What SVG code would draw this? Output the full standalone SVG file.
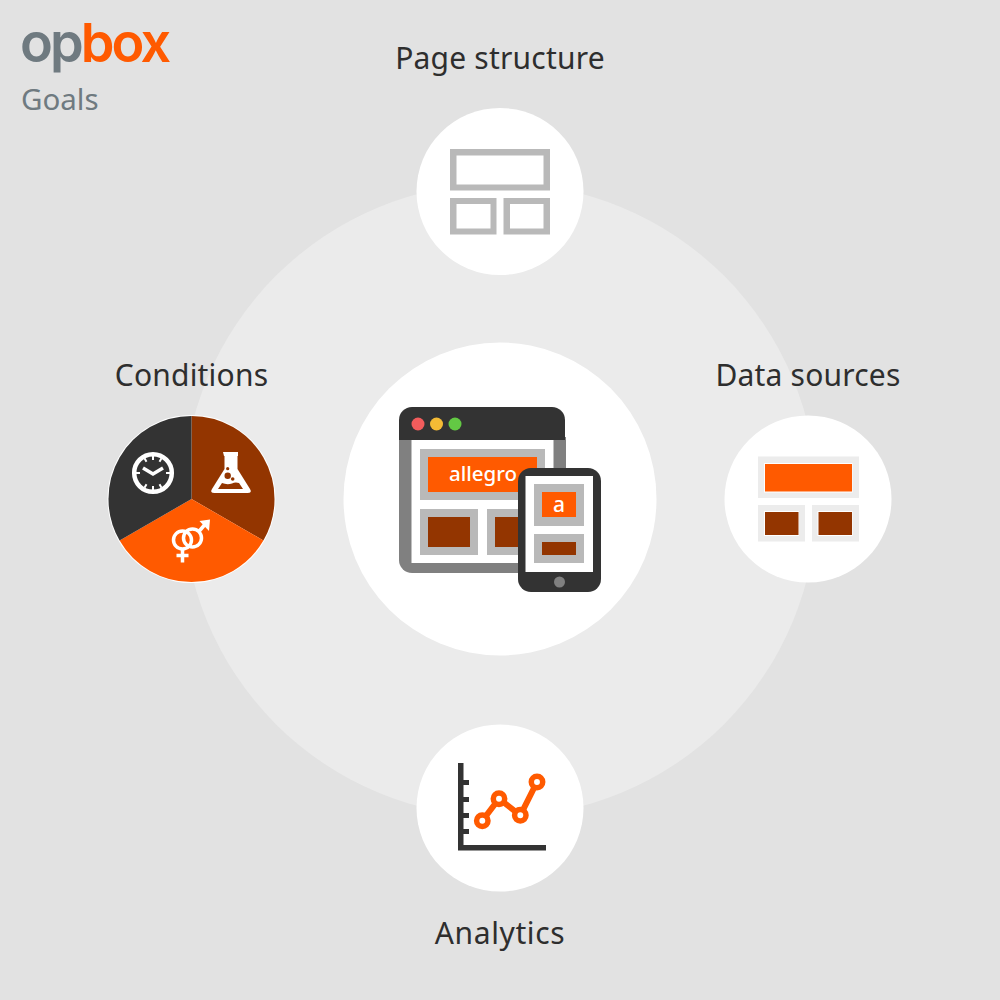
<svg xmlns="http://www.w3.org/2000/svg" width="1000" height="1000" viewBox="0 0 1000 1000">
<style>
.l{font-family:"Noto Sans","Open Sans",sans-serif;font-size:30px;fill:#2e2e2e;text-anchor:middle;letter-spacing:.2px}
.w{fill:#fff}.o{fill:#ff5a00}.b{fill:#933500}.g{fill:#b9b9b9}.d{fill:#333}.e{fill:#ececec}
.s{fill:none;stroke:#fff}
</style>
<rect width="1000" height="1000" fill="#e2e2e2"/>
<circle cx="500" cy="500" r="317" fill="#ebebeb"/>
<g id="logo">
<text x="20" y="62" font-family="Inter,'Noto Sans',sans-serif" font-size="54" font-weight="600" letter-spacing="-2.900" fill="#6f7a80">op<tspan fill="#ff5a00">box</tspan></text>
<text x="21" y="110" font-family="'Noto Sans',sans-serif" font-size="29.500" fill="#6f7a80">Goals</text>
</g>
<g id="page-structure">
<circle cx="500" cy="191.500" r="83.500" class="w"/>
<path class="g" fill-rule="evenodd" d="M450 149h100v41.500h-100zM456.500 155.500v29h87v-29zM450 198h46.500v36.500h-46.500zM456.500 204v24.500h34v-24.500zM503.500 198h46.500v36.500h-46.500zM510 204v24.500h33.500v-24.500z"/>
<text class="l" x="500" y="69">Page structure</text>
</g>
<g id="data-sources">
<circle cx="808" cy="499" r="83.500" class="w"/>
<rect x="758" y="456.500" width="101" height="41.500" class="e"/><rect x="764" y="463" width="88.500" height="29.500" class="w"/><rect x="765" y="464" width="87" height="27.500" class="o"/>
<rect x="758" y="505" width="47" height="36.500" class="e"/><rect x="764" y="511" width="35" height="25" class="w"/><rect x="765" y="512" width="33.500" height="23" class="b"/>
<rect x="812" y="505" width="47" height="36.500" class="e"/><rect x="817.500" y="511" width="35" height="25" class="w"/><rect x="818.500" y="512" width="33.500" height="23" class="b"/>
<text class="l" x="808" y="386">Data sources</text>
</g>
<g id="analytics">
<circle cx="500" cy="808" r="83.500" class="w"/>
<path class="d" d="M458 763h5.500v82h82.500v5.500h-88zM463 780h6v5h-6zM463 797h6v5h-6zM463 813h6v5h-6zM463 829h6v5h-6z"/>
<path d="M482.300 820.700L499 798.700L520.300 815.300L537 782" fill="none" stroke="#ff5a00" stroke-width="6"/>
<g fill="#fff" stroke="#ff5a00" stroke-width="5.500"><circle cx="482.300" cy="820.700" r="5.700"/><circle cx="499" cy="798.700" r="5.700"/><circle cx="520.300" cy="815.300" r="5.700"/><circle cx="537" cy="782" r="5.700"/></g>
<text class="l" x="500" y="944" style="letter-spacing:.6px">Analytics</text>
</g>
<g id="conditions">
<circle cx="191.500" cy="499" r="84" class="w"/>
<path class="b" d="M191.500 499V416A83 83 0 0 1 263.400 540.500Z"/>
<path class="o" d="M191.500 499L263.400 540.500A83 83 0 0 1 119.600 540.500Z"/>
<path class="d" d="M191.500 499L119.600 540.500A83 83 0 0 1 191.500 416Z"/>
<circle cx="153" cy="473" r="18.800" class="s" stroke-width="4.500"/>
<path class="s" stroke-width="3.500" d="M143 468L153 474L163 468"/>
<path class="s" stroke-width="2" d="M153 456v4M153 486v4M136 473h4M166 473h4M144.500 458.300l2 3.500M161.500 458.300l-2 3.500M144.500 487.700l2-3.500M161.500 487.700l-2-3.500"/>
<path class="w" fill-rule="evenodd" d="M223 452h15v4h-.5v13l12.500 20q2.500 4-2.500 4h-33q-5 0-2.500-4l12.500-20v-13h-.5zM222 483l-4 6h25l-4-6q-4-1-7 .5q-5 1.500-10-.5z"/>
<g class="b"><circle cx="227.700" cy="468.700" r="1.600"/><circle cx="227.700" cy="475.800" r="3.200"/><circle cx="232.700" cy="479" r="1.800"/></g>
<circle cx="182.500" cy="540" r="9" class="s" stroke-width="3.500"/><circle cx="192.500" cy="538" r="9" class="s" stroke-width="3.500"/>
<path class="s" stroke-width="3.500" d="M182.500 549v13.500M176.500 555.500h12M198.500 532L207 522"/>
<path class="w" d="M199.500 521l10.500-1.500l-1 11.500z"/>
<text class="l" x="191.500" y="386">Conditions</text>
</g>
<g id="center">
<circle cx="500" cy="499" r="156.500" class="w"/>
<path d="M399 437h167v123a13 13 0 0 1-13 13H412a13 13 0 0 1-13-13z" fill="#808080"/>
<path class="d" d="M399 440v-20a13 13 0 0 1 13-13h140a13 13 0 0 1 13 13v20z"/>
<circle cx="418" cy="424" r="6.500" fill="#f25c5c"/><circle cx="436.500" cy="424" r="6.500" fill="#f4bb35"/><circle cx="455" cy="424" r="6.500" fill="#63c944"/>
<rect x="411.500" y="440" width="142" height="123" class="w"/>
<rect x="420" y="449" width="125" height="51" class="g"/><rect x="428" y="457" width="109" height="35" class="o"/>
<text x="449" y="481" font-family="'Noto Sans',sans-serif" font-size="20.500" font-weight="500" fill="#fff">allegro</text>
<rect x="420" y="509" width="58" height="46" class="g"/><rect x="428" y="517" width="42" height="30" class="b"/>
<rect x="487" y="509" width="58" height="46" class="g"/><rect x="495" y="517" width="42" height="30" class="b"/>
<rect x="518" y="468" width="83" height="124" rx="13" class="d"/>
<rect x="525.500" y="476" width="67.500" height="96" class="w"/>
<rect x="534" y="484" width="50" height="42" class="g"/><rect x="542" y="492" width="34" height="25" class="o"/>
<text x="559" y="512" font-family="'Noto Sans',sans-serif" font-size="21" font-weight="500" text-anchor="middle" fill="#fff">a</text>
<rect x="534" y="534" width="50" height="29" class="g"/><rect x="542" y="542" width="34" height="13" class="b"/>
<circle cx="559.500" cy="582" r="5.500" fill="#808080"/>
</g>
</svg>
